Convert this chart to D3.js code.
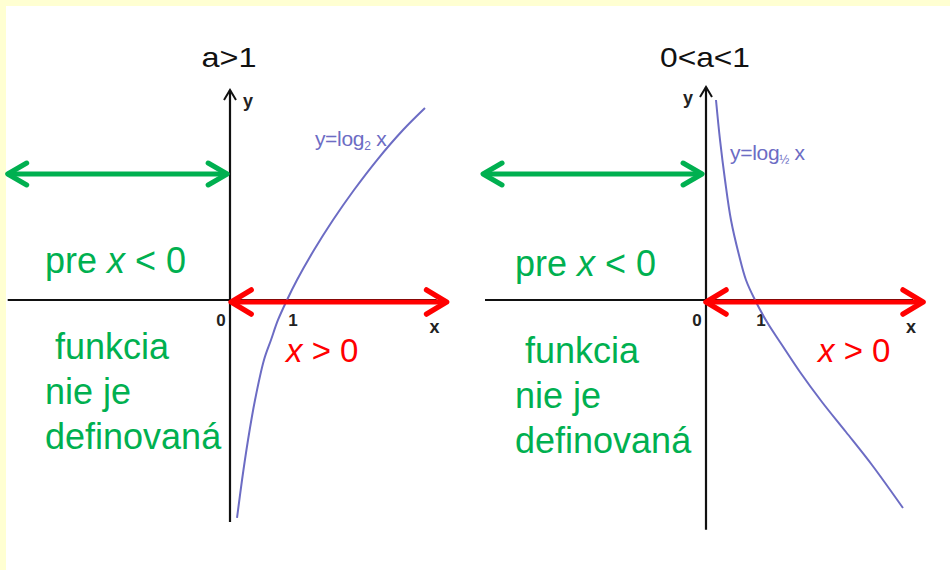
<!DOCTYPE html>
<html>
<head>
<meta charset="utf-8">
<script src="https://cdn.jsdelivr.net/npm/d3@7"></script>
<style>
  html, body { margin: 0; padding: 0; background: #fff; }
  svg { display: block; font-family: "Liberation Sans", Arial, sans-serif; }
</style>
</head>
<body>
<div id="chart"></div>
<script>
// curve points (x, y in axis units)
const curveLeft = [
  [0.123, -3.633], [0.211, -3.0], [0.316, -2.333], [0.439, -1.667], [0.596, -1.0],
  [0.719, -0.667], [0.842, -0.333], [1.0, 0], [1.175, 0.333], [1.474, 0.833],
  [1.807, 1.333], [2.175, 1.833], [2.579, 2.333], [3.035, 2.833], [3.421, 3.2]
];
const curveRight = [
  [0.204, 3.333], [0.286, 2.667], [0.388, 2.0], [0.510, 1.333], [0.673, 0.75],
  [0.816, 0.333], [1.0, 0], [1.245, -0.367], [1.551, -0.75], [1.918, -1.2],
  [2.367, -1.7], [2.857, -2.2], [3.388, -2.75], [4.020, -3.467]
];

const panels = [
  { title: "a>1", titleX: 229, titleW: 55, originX: 230, unitX: 57, xAxis: [-3.9, 0], yAxis: [-3.7, 3.5],
    green: [-3.9, -0.05, 2.1], red: [0.02, 3.8], curve: curveLeft,
    base: "y=log", sub: "2", labelAt: [1.49, 2.57], yLabelSide: 1,
    prePos: [45, 273], funkPos: [45, 359], redPos: [286, 362] },
  { title: "0<a<1", titleX: 705, titleW: 90, originX: 706, unitX: 49, xAxis: [-4.51, 0], yAxis: [-3.83, 3.55],
    green: [-4.55, -0.08, 2.1], red: [0.0, 4.43], curve: curveRight,
    base: "y=log", sub: "½", labelAt: [0.49, 2.33], yLabelSide: -1,
    prePos: [515, 276], funkPos: [515, 363], redPos: [818, 362] }
];
const funkLines = [" funkcia", "nie je", "definovaná"];

const W = 950, H = 570;
const svg = d3.select("#chart").append("svg").attr("width", W).attr("height", H);

// yellowish frame on top and left
svg.append("rect").attr("width", W).attr("height", H).attr("fill", "#ffffd2");
svg.append("rect").attr("x", 6).attr("y", 6).attr("width", W).attr("height", H).attr("fill", "#fff");

const y = d3.scaleLinear().domain([0, 1]).range([300, 240]);
const green = "#00b050", red = "#ff0000", purple = "#6c6cc4";

function chevron(g, x, yy, dir, len, half, color, width) {
  // open arrowhead: dir 1 = pointing right, -1 = left
  g.append("path")
    .attr("d", `M${x - dir * len},${yy - half}L${x},${yy}L${x - dir * len},${yy + half}`)
    .attr("fill", "none").attr("stroke", color).attr("stroke-width", width)
    .attr("stroke-linecap", "round").attr("stroke-linejoin", "round");
}

panels.forEach(p => {
  const x = d3.scaleLinear().domain([0, 1]).range([p.originX, p.originX + p.unitX]);
  const g = svg.append("g");

  // title
  g.append("text").attr("x", p.titleX).attr("y", 67).attr("text-anchor", "middle")
    .attr("font-size", 28).attr("fill", "#111")
    .attr("textLength", p.titleW).attr("lengthAdjust", "spacingAndGlyphs").text(p.title);

  // axes
  g.append("line").attr("x1", x(p.xAxis[0])).attr("x2", x(p.red[1]) - 10)
    .attr("y1", y(0)).attr("y2", y(0)).attr("stroke", "#111").attr("stroke-width", 2);
  g.append("line").attr("x1", x(0)).attr("x2", x(0))
    .attr("y1", y(p.yAxis[0])).attr("y2", y(p.yAxis[1])).attr("stroke", "#111").attr("stroke-width", 2.2);
  g.append("path")
    .attr("d", `M${x(0) - 6},${y(p.yAxis[1]) + 10}L${x(0)},${y(p.yAxis[1])}L${x(0) + 6},${y(p.yAxis[1]) + 10}`)
    .attr("fill", "none").attr("stroke", "#111").attr("stroke-width", 2);
  g.append("text").attr("x", x(0) + p.yLabelSide * 18).attr("y", y(p.yAxis[1]) + 17)
    .attr("text-anchor", "middle").attr("font-size", 18).attr("font-weight", "bold")
    .attr("fill", "#222").text("y");

  // tick labels
  g.append("text").attr("x", x(0) - 9).attr("y", y(0) + 26).attr("text-anchor", "middle")
    .attr("font-size", 17).attr("font-weight", "bold").attr("fill", "#222").text("0");
  g.append("text").attr("x", x(1) + 6).attr("y", y(0) + 26).attr("text-anchor", "middle")
    .attr("font-size", 17).attr("font-weight", "bold").attr("fill", "#222").text("1");
  g.append("text").attr("x", x(p.red[1]) - 12).attr("y", y(0) + 33).attr("text-anchor", "middle")
    .attr("font-size", 18).attr("font-weight", "bold").attr("fill", "#222").text("x");

  // curve
  g.append("path").datum(p.curve)
    .attr("d", d3.line().x(d => x(d[0])).y(d => y(d[1])).curve(d3.curveCatmullRom))
    .attr("fill", "none").attr("stroke", purple).attr("stroke-width", 2);
  const lbl = g.append("text").attr("x", x(p.labelAt[0])).attr("y", y(p.labelAt[1]))
    .attr("font-size", 21).attr("fill", purple).attr("letter-spacing", -0.3);
  lbl.append("tspan").text(p.base);
  lbl.append("tspan").attr("font-size", 12).attr("dy", 4).text(p.sub);
  lbl.append("tspan").attr("dy", -4).text(" x");

  // green arrow (x < 0)
  const gy = y(p.green[2]);
  g.append("line").attr("x1", x(p.green[0])).attr("x2", x(p.green[1]))
    .attr("y1", gy).attr("y2", gy).attr("stroke", green).attr("stroke-width", 5);
  chevron(g, x(p.green[0]), gy, -1, 19, 11, green, 5);
  chevron(g, x(p.green[1]), gy, 1, 19, 11, green, 5);

  // red arrow (x > 0)
  const ry = y(0) + 2;
  g.append("line").attr("x1", x(p.red[0])).attr("x2", x(p.red[1]))
    .attr("y1", ry).attr("y2", ry).attr("stroke", red).attr("stroke-width", 5);
  chevron(g, x(p.red[0]), ry, -1, 20, 12, red, 5.5);
  chevron(g, x(p.red[1]), ry, 1, 20, 12, red, 5.5);

  // green texts
  const pre = g.append("text").attr("x", p.prePos[0]).attr("y", p.prePos[1])
    .attr("font-size", 36).attr("fill", green);
  pre.append("tspan").text("pre ");
  pre.append("tspan").attr("font-style", "italic").text("x");
  pre.append("tspan").text(" < 0");
  funkLines.forEach((t, i) => {
    g.append("text").attr("x", p.funkPos[0]).attr("y", p.funkPos[1] + i * 45)
      .attr("font-size", 36).attr("fill", green).attr("xml:space", "preserve").text(t);
  });

  // red text
  const rt = g.append("text").attr("x", p.redPos[0]).attr("y", p.redPos[1])
    .attr("font-size", 33).attr("fill", red);
  rt.append("tspan").attr("font-style", "italic").text("x");
  rt.append("tspan").text(" > 0");
});
</script>
</body>
</html>
